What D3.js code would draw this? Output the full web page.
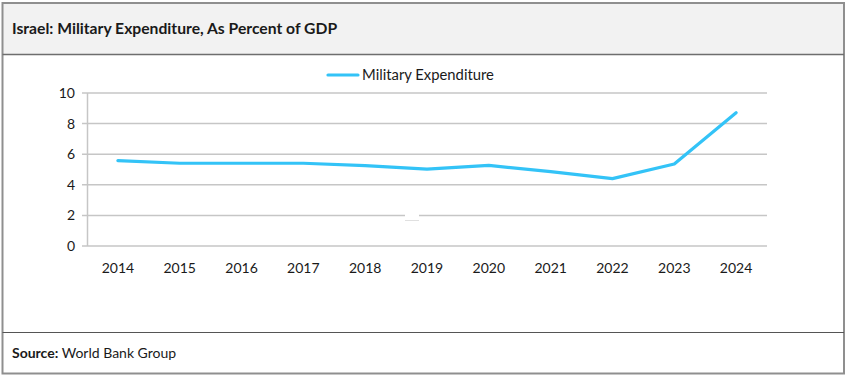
<!DOCTYPE html>
<html>
<head>
<meta charset="utf-8">
<script src="https://cdn.jsdelivr.net/npm/d3@7"></script>
<style>
  body { margin: 0; background: #fff; }
  text { font-family: Lato, "Open Sans", sans-serif; fill: #1a1a1a; }
</style>
</head>
<body>
<script>
let width = 846;
let height = 376;

// chart data
let years = ["2014", "2015", "2016", "2017", "2018", "2019", "2020", "2021", "2022", "2023", "2024"];
let expenditure = [5.58, 5.41, 5.41, 5.41, 5.25, 5.03, 5.27, 4.86, 4.4, 5.36, 8.71];
let yTicks = [0, 2, 4, 6, 8, 10];
let seriesName = "Military Expenditure";

let svg = d3.select("body")
    .append("svg")
    .attr("width", width)
    .attr("height", height);

// frame + title band
svg.append("rect")
    .attr("x", 2.5).attr("y", 3)
    .attr("width", 841.5).attr("height", 51.5)
    .attr("fill", "#f2f2f2");

svg.append("rect")
    .attr("x", 2.5).attr("y", 3)
    .attr("width", 841.5).attr("height", 370.5)
    .attr("fill", "none")
    .attr("stroke", "#8f8f8f")
    .attr("stroke-width", 2);

svg.append("line")
    .attr("x1", 2.5).attr("x2", 844)
    .attr("y1", 54.5).attr("y2", 54.5)
    .attr("stroke", "#6e6e6e")
    .attr("stroke-width", 1.5);

svg.append("line")
    .attr("x1", 2.5).attr("x2", 844)
    .attr("y1", 332.5).attr("y2", 332.5)
    .attr("stroke", "#555")
    .attr("stroke-width", 1.2);

svg.append("text")
    .attr("x", 12).attr("y", 34)
    .attr("font-size", 15.7)
    .attr("font-weight", "bold")
    .text("Israel: Military Expenditure, As Percent of GDP");

let source = svg.append("text")
    .attr("x", 12).attr("y", 358)
    .attr("font-size", 14);
source.append("tspan").attr("font-weight", "bold").text("Source:");
source.append("tspan").text(" World Bank Group");

// scales
let x = d3.scaleBand().domain(years).range([87, 767]);
let y = d3.scaleLinear().domain([0, 10]).range([246, 93]);

// gridlines
svg.append("g")
    .selectAll("line")
    .data(yTicks)
    .enter().append("line")
        .attr("x1", 82).attr("x2", 767)
        .attr("y1", function(d) { return y(d); })
        .attr("y2", function(d) { return y(d); })
        .attr("stroke", "#c6c6c6")
        .attr("stroke-width", 1.5);

svg.append("line")
    .attr("x1", 87.5).attr("x2", 87.5)
    .attr("y1", 93).attr("y2", 246)
    .attr("stroke", "#c6c6c6")
    .attr("stroke-width", 1.5);

svg.append("g")
    .selectAll("text")
    .data(yTicks)
    .enter().append("text")
        .attr("x", 75)
        .attr("y", function(d) { return y(d) + 5; })
        .attr("text-anchor", "end")
        .attr("font-size", 14)
        .text(function(d) { return d; });

svg.append("g")
    .selectAll("text")
    .data(years)
    .enter().append("text")
        .attr("x", function(d) { return x(d) + x.bandwidth() / 2; })
        .attr("y", 273)
        .attr("text-anchor", "middle")
        .attr("font-size", 14)
        .text(function(d) { return d; });

// small white patch over the 2 gridline, as in the original
svg.append("rect")
    .attr("x", 405).attr("y", 214)
    .attr("width", 14).attr("height", 4)
    .attr("fill", "#fff");
svg.append("line")
    .attr("x1", 405).attr("x2", 419)
    .attr("y1", 220.5).attr("y2", 220.5)
    .attr("stroke", "#e0e0e0")
    .attr("stroke-width", 1);

// series line
let line = d3.line()
    .x(function(d, i) { return x(years[i]) + x.bandwidth() / 2; })
    .y(function(d) { return y(d); });

svg.append("path")
    .datum(expenditure)
    .attr("d", line)
    .attr("fill", "none")
    .attr("stroke", "#33c3f7")
    .attr("stroke-width", 3.2)
    .attr("stroke-linejoin", "round")
    .attr("stroke-linecap", "round");

// legend
svg.append("line")
    .attr("x1", 328).attr("x2", 358)
    .attr("y1", 75).attr("y2", 75)
    .attr("stroke", "#33c3f7")
    .attr("stroke-width", 3.2)
    .attr("stroke-linecap", "round");

svg.append("text")
    .attr("x", 362).attr("y", 80)
    .attr("font-size", 14.8)
    .text(seriesName);
</script>
</body>
</html>
